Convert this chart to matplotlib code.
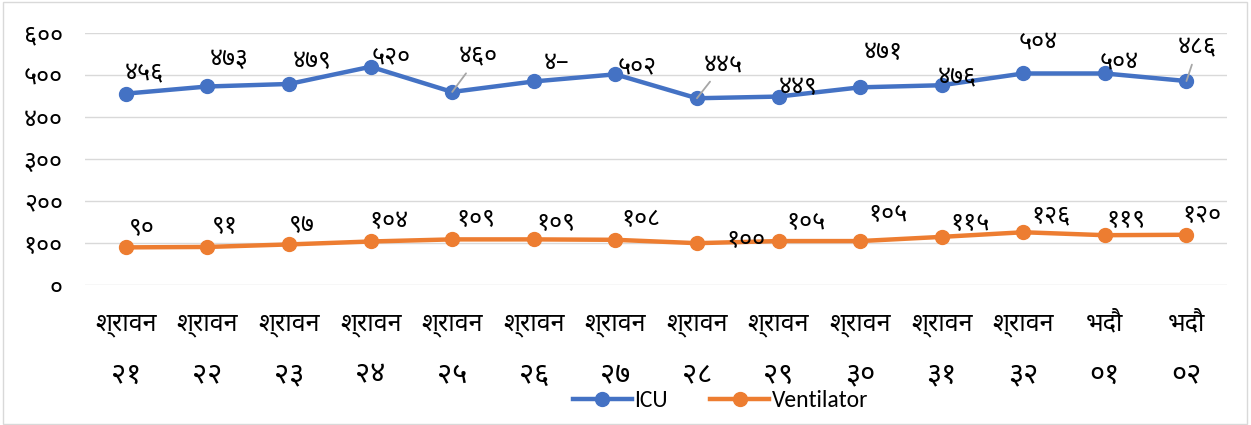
import matplotlib
matplotlib.use("Agg")
import matplotlib.pyplot as plt
from matplotlib.patches import Rectangle

# ── 데이터 ────────────────────────────────────────────────
months = ["श्रावन"] * 12 + ["भदौ"] * 2
days   = ["२१", "२२", "२३", "२४", "२५", "२६", "२७", "२८", "२९", "३०", "३१", "३२", "०१", "०२"]
icu    = [456, 473, 479, 520, 460, 485, 502, 445, 449, 471, 476, 504, 504, 486]
vent   = [90, 91, 97, 104, 109, 109, 108, 100, 105, 105, 115, 126, 119, 120]
yticks = [0, 100, 200, 300, 400, 500, 600]

DEV = str.maketrans("0123456789", "०१२३४५६७८९")
icu_labels  = [str(v).translate(DEV) for v in icu]
icu_labels[5] = "४–"          # label as printed in the source
vent_labels = [str(v).translate(DEV) for v in vent]

# label offsets in pixels, (right, up) — manual placement as in the source
icu_off  = [(19, 20), (22, 27), (23, 22), (21, 10), (26, 35), (23, 18), (22, 8),
            (26, 33), (20, 9), (23, 35), (16, 7), (15, 31), (14, 11), (11, 33)]
vent_off = [(16, 20), (17, 20), (13, 20), (18, 20), (24, 20), (22, 16), (26, 20),
            (49, 3), (27, 19), (28, 27), (28, 13), (28, 16), (21, 15), (15, 19)]
leaders  = [4, 7, 13]

BLUE, ORANGE, GRID = "#4472C4", "#ED7D31", "#D9D9D9"
DEV_FONT = ["Noto Sans Devanagari", "DejaVu Sans"]

fig = plt.figure(figsize=(12.51, 4.25), dpi=100)
fig.patches.append(Rectangle((0.002, 0.003), 0.995, 0.993, transform=fig.transFigure,
                             fill=False, edgecolor=GRID, linewidth=1))
ax = fig.add_axes([0.068, 0.329, 0.913, 0.593])

x = list(range(len(icu)))
ax.plot(x, icu, color=BLUE, lw=3.2, marker="o", ms=10, label="ICU", zorder=3)
ax.plot(x, vent, color=ORANGE, lw=3.2, marker="o", ms=10, label="Ventilator", zorder=3)

for i in x:
    dx, dy = icu_off[i]
    arrow = dict(arrowstyle="-", color="#A6A6A6", lw=1.3, shrinkA=1, shrinkB=0) if i in leaders else None
    ax.annotate(icu_labels[i], (i, icu[i]), xytext=(dx, dy), textcoords="offset pixels",
                ha="center", va="center", fontsize=18, family=DEV_FONT,
                arrowprops=arrow, zorder=4)
    dx, dy = vent_off[i]
    ax.annotate(vent_labels[i], (i, vent[i]), xytext=(dx, dy), textcoords="offset pixels",
                ha="center", va="center", fontsize=18, family=DEV_FONT, zorder=4)

ax.set_xlim(-0.5, len(icu) - 0.5)
ax.set_ylim(0, 600)
ax.set_yticks(yticks)
ax.set_yticklabels([str(v).translate(DEV) for v in yticks], family=DEV_FONT, fontsize=18)
ax.set_xticks(x)
ax.set_xticklabels(months, family=DEV_FONT, fontsize=18)
# 두 번째 줄 (날짜) — 숫자가 조금 더 큼
for i, d in zip(x, days):
    ax.annotate(d, (i, 0), xycoords=ax.get_xaxis_transform(), xytext=(0, -90),
                textcoords="offset pixels", ha="center", va="center",
                fontsize=21, family=DEV_FONT)
ax.tick_params(axis="both", length=0)
ax.tick_params(axis="y", pad=16)
ax.tick_params(axis="x", pad=19)
ax.grid(axis="y", color=GRID, lw=1)
ax.set_axisbelow(True)
for s in ax.spines.values():
    s.set_visible(False)

fig.legend(loc="center", bbox_to_anchor=(0.576, 0.058), ncol=2, frameon=False,
           prop={"family": ["Carlito", "Liberation Sans Narrow", "DejaVu Sans"], "size": 17},
           handlelength=2.5, columnspacing=1.8, handletextpad=0.1)

fig.savefig("out.png", dpi=100)
